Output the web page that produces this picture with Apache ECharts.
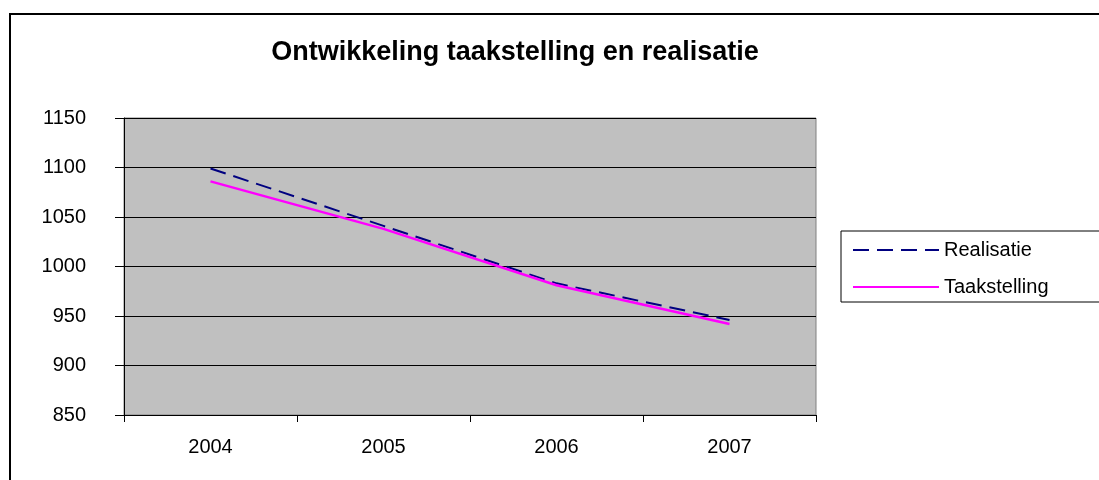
<!DOCTYPE html>
<html>
<head>
<meta charset="utf-8">
<script src="https://cdn.jsdelivr.net/npm/echarts@6/dist/echarts.min.js"></script>
<style>
html,body{margin:0;padding:0;background:#fff;}
#chart{width:1099px;height:480px;}
</style>
</head>
<body>
<div id="chart"></div>
<script>
const titleText = 'Ontwikkeling taakstelling en realisatie';
const categories = ['2004', '2005', '2006', '2007'];
const realisatie = [1099, 1041, 983, 946];
const taakstelling = [1086, 1038, 981, 942];
const yMin = 850, yMax = 1150, yStep = 50;

const chart = echarts.init(document.getElementById('chart'), null, {renderer: 'canvas'});
const font = '"Liberation Sans", Arial, sans-serif';
chart.setOption({
  animation: false,
  backgroundColor: '#ffffff',
  textStyle: {fontFamily: font, color: '#000'},
  title: {
    text: titleText,
    left: 510, top: 34, textAlign: 'center',
    textStyle: {fontFamily: font, fontSize: 27, fontWeight: 'bold', color: '#000'}
  },
  graphic: [{
    type: 'rect', silent: true, z: 100,
    shape: {x: 10, y: 14, width: 2000, height: 1000},
    style: {fill: 'none', stroke: '#000', lineWidth: 2}
  }],
  legend: {
    orient: 'vertical',
    left: 841, top: 231,
    padding: [7, 200, 3, 11],
    backgroundColor: '#fff',
    borderColor: '#000', borderWidth: 1,
    itemWidth: 86, itemHeight: 24, itemGap: 13,
    itemStyle: {opacity: 0},
    textStyle: {fontFamily: font, fontSize: 20, color: '#000', lineHeight: 24},
    data: ['Realisatie', 'Taakstelling']
  },
  grid: {
    left: 124, right: 283, top: 118, bottom: 65,
    show: true, backgroundColor: '#c0c0c0', borderColor: '#808080', borderWidth: 1
  },
  xAxis: {
    type: 'category', data: categories, boundaryGap: true,
    axisLine: {lineStyle: {color: '#000', width: 1}},
    axisTick: {show: true, interval: 0, length: 7, lineStyle: {color: '#000'}},
    axisLabel: {fontFamily: font, fontSize: 20, color: '#000', margin: 22}
  },
  yAxis: {
    type: 'value', min: yMin, max: yMax, interval: yStep,
    axisLine: {show: true, lineStyle: {color: '#000', width: 1}},
    axisTick: {show: true, length: 9, lineStyle: {color: '#000'}},
    axisLabel: {fontFamily: font, fontSize: 20, color: '#000', margin: 38,
      formatter: function (v) { return String(v); }},
    splitLine: {show: true, lineStyle: {color: '#000', width: 1}}
  },
  series: [
    {
      name: 'Realisatie', type: 'line', data: realisatie,
      symbol: 'none', smooth: false,
      lineStyle: {color: '#000080', width: 2, type: [16, 8]},
      itemStyle: {color: '#000080'}
    },
    {
      name: 'Taakstelling', type: 'line', data: taakstelling,
      symbol: 'none', smooth: false,
      lineStyle: {color: '#ff00ff', width: 2.5, type: 'solid'},
      itemStyle: {color: '#ff00ff'}
    }
  ]
});
</script>
</body>
</html>
